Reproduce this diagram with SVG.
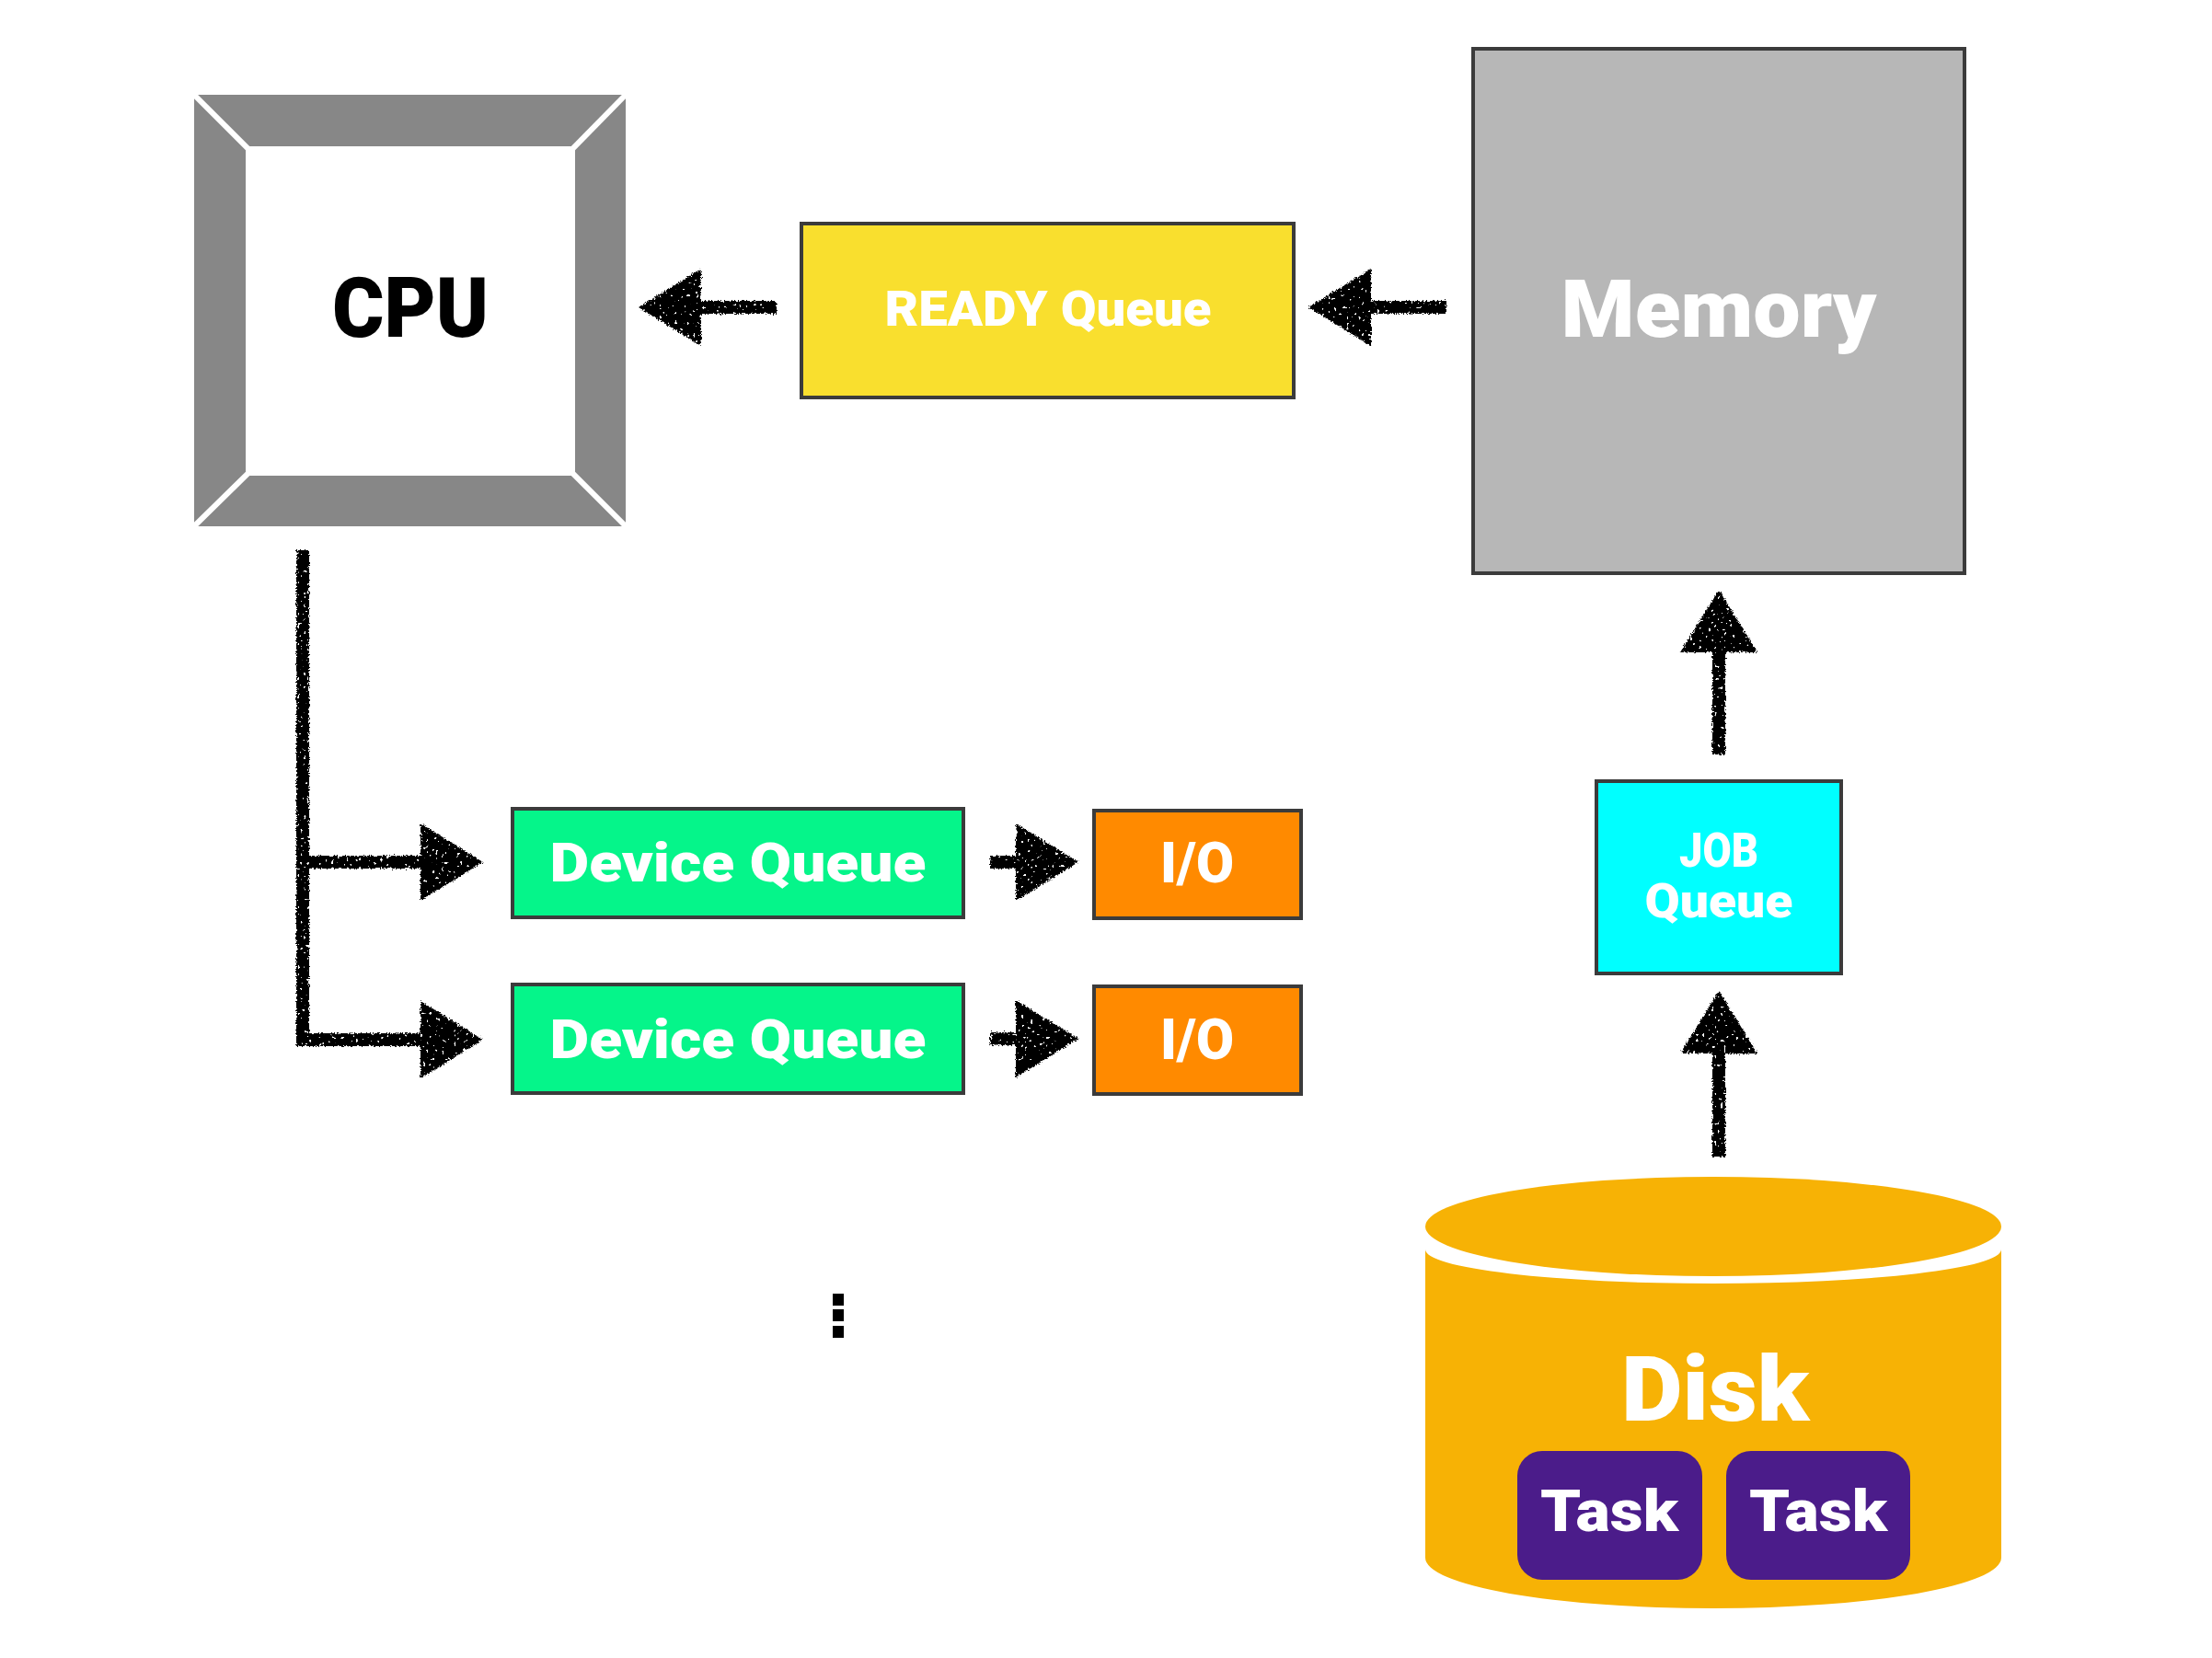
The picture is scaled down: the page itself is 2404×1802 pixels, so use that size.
<svg xmlns="http://www.w3.org/2000/svg" width="2404" height="1802" viewBox="0 0 2404 1802">
<defs>
<style>
.box{stroke:#3b3b3b;stroke-width:4}
.lbl{font-family:"Roboto","Liberation Sans","Arial",sans-serif;font-weight:900;fill:#ffffff;text-anchor:middle}
.conn{fill:none;stroke:#000;stroke-width:14;stroke-linecap:butt;stroke-linejoin:miter}
</style>
<marker id="ah" markerUnits="userSpaceOnUse" markerWidth="68" markerHeight="84" viewBox="0 0 68 84" refX="38" refY="42" orient="auto">
<path d="M0,0 L68,42 L0,84 Z" fill="#000"/>
</marker>
<filter id="rough" filterUnits="userSpaceOnUse" x="0" y="0" width="2404" height="1802">
<feTurbulence type="fractalNoise" baseFrequency="0.6" numOctaves="2" seed="4" result="n"/>
<feDisplacementMap in="SourceGraphic" in2="n" scale="5" xChannelSelector="R" yChannelSelector="G" result="d"/>
<feTurbulence type="fractalNoise" baseFrequency="0.3" numOctaves="1" seed="9" result="n2"/>
<feColorMatrix in="n2" type="matrix" values="0 0 0 0 0  0 0 0 0 0  0 0 0 0 0  30 0 0 0 -20" result="holes"/>
<feComposite in="d" in2="holes" operator="out"/>
</filter>
</defs>
<rect width="2404" height="1802" fill="#ffffff"/>

<g id="cpu">
<rect x="211" y="103" width="469" height="469" fill="#878787"/>
<rect x="267" y="159" width="358" height="358" fill="#ffffff"/>
<g stroke="#ffffff" stroke-width="6" stroke-linecap="square">
<line x1="211" y1="103" x2="267" y2="159"/>
<line x1="680" y1="103" x2="625" y2="159"/>
<line x1="211" y1="572" x2="267" y2="517"/>
<line x1="680" y1="572" x2="625" y2="517"/>
</g>
<text x="446" y="366" font-size="90" textLength="170" lengthAdjust="spacingAndGlyphs" class="lbl" style="fill:#000">CPU</text>
</g>

<g id="ready-queue">
<rect class="box" x="871" y="243" width="535" height="189" fill="#f9df2e"/>
<text class="lbl" x="1139" y="354" font-size="54" textLength="355" lengthAdjust="spacingAndGlyphs">READY Queue</text>
</g>

<g id="memory">
<rect class="box" x="1601" y="53" width="534" height="570" fill="#b7b7b7"/>
<text class="lbl" x="1868" y="366" font-size="88" textLength="343" lengthAdjust="spacingAndGlyphs">Memory</text>
</g>

<g id="device-queue-1">
<rect class="box" x="557" y="879" width="490" height="118" fill="#05f58a"/>
<text class="lbl" x="802" y="958" font-size="60" textLength="409" lengthAdjust="spacingAndGlyphs">Device Queue</text>
</g>
<g id="device-queue-2">
<rect class="box" x="557" y="1070" width="490" height="118" fill="#05f58a"/>
<text class="lbl" x="802" y="1150" font-size="60" textLength="409" lengthAdjust="spacingAndGlyphs">Device Queue</text>
</g>

<g id="io-1">
<rect class="box" x="1189" y="881" width="225" height="117" fill="#ff8a00"/>
<text class="lbl" x="1301" y="959" font-size="62" textLength="80" lengthAdjust="spacingAndGlyphs">I/O</text>
</g>
<g id="io-2">
<rect class="box" x="1189" y="1072" width="225" height="117" fill="#ff8a00"/>
<text class="lbl" x="1301" y="1151" font-size="62" textLength="80" lengthAdjust="spacingAndGlyphs">I/O</text>
</g>

<g id="job-queue">
<rect class="box" x="1735" y="849" width="266" height="209" fill="#00ffff"/>
<text class="lbl" x="1868" y="942" font-size="52" textLength="86" lengthAdjust="spacingAndGlyphs">JOB</text>
<text class="lbl" x="1868" y="997" font-size="52" textLength="161" lengthAdjust="spacingAndGlyphs">Queue</text>
</g>

<g id="disk">
<path d="M1549,1358 A313,37 0 0 0 2175,1358 L2175,1693 A313,55 0 0 1 1549,1693 Z" fill="#f7b205"/>
<ellipse cx="1862" cy="1333" rx="313" ry="54" fill="#f7b205"/>
<text class="lbl" x="1864" y="1544" font-size="98" textLength="204" lengthAdjust="spacingAndGlyphs">Disk</text>
<g id="task-1">
<rect x="1649" y="1577" width="201" height="140" rx="27" ry="27" fill="#4b1c8a"/>
<text class="lbl" x="1749" y="1664" font-size="63" textLength="150" lengthAdjust="spacingAndGlyphs">Task</text>
</g>
<g id="task-2">
<rect x="1876" y="1577" width="200" height="140" rx="27" ry="27" fill="#4b1c8a"/>
<text class="lbl" x="1976" y="1664" font-size="63" textLength="150" lengthAdjust="spacingAndGlyphs">Task</text>
</g>
</g>

<g id="ellipsis" fill="#000">
<rect x="905" y="1406" width="12" height="13"/>
<rect x="905" y="1423" width="12" height="13"/>
<rect x="905" y="1441" width="12" height="13"/>
</g>

<g id="connectors" filter="url(#rough)">
<path class="conn" d="M844,334 H724" marker-end="url(#ah)"/>
<path class="conn" d="M1572,334 H1452" marker-end="url(#ah)"/>
<path class="conn" d="M329,598 V1130 H495" marker-end="url(#ah)"/>
<path class="conn" d="M336,937 H495" marker-end="url(#ah)"/>
<path class="conn" d="M1076,937 H1142" marker-end="url(#ah)"/>
<path class="conn" d="M1076,1129 H1142" marker-end="url(#ah)"/>
<path class="conn" d="M1868,820 V671" marker-end="url(#ah)"/>
<path class="conn" d="M1868,1257 V1107" marker-end="url(#ah)"/>
</g>
</svg>
